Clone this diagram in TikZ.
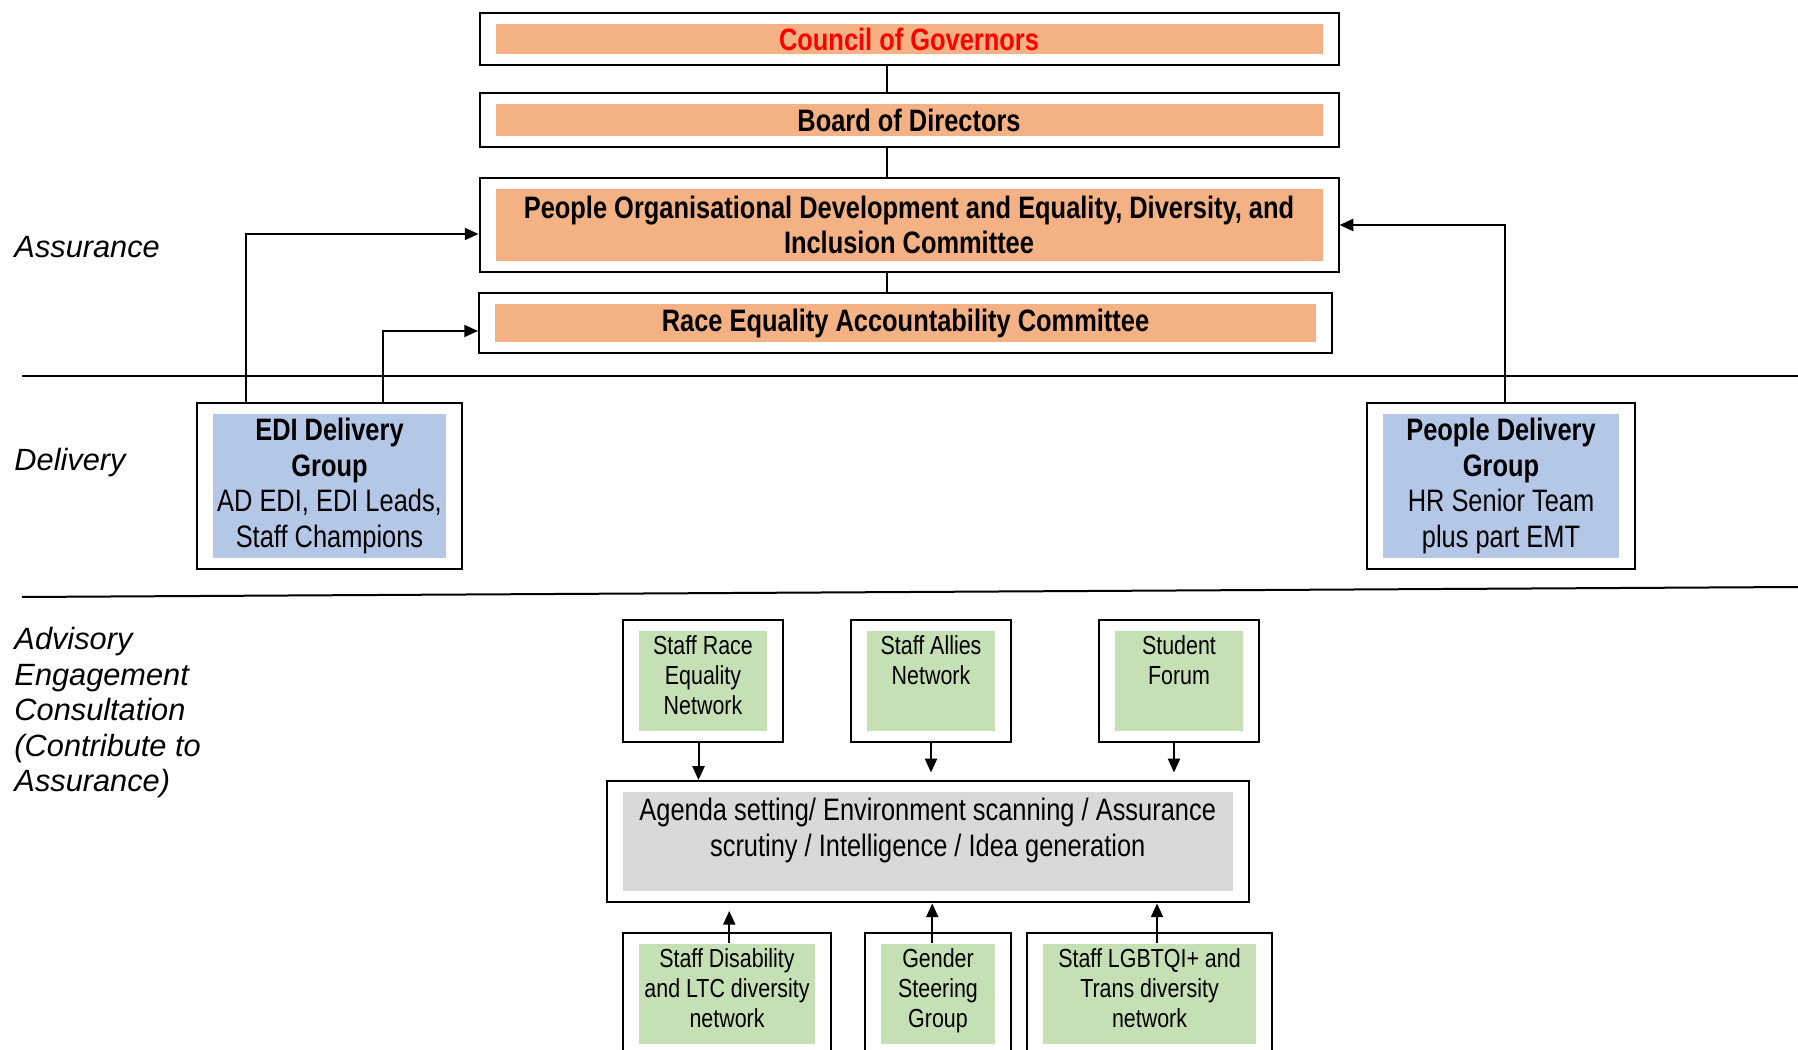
\documentclass[tikz,border=0pt]{standalone}
\usepackage{fontspec}
\setmainfont{Liberation Sans}
\newfontfamily\narrowfont{Liberation Sans}[FakeStretch=0.82]
\usetikzlibrary{calc,arrows.meta}

\definecolor{govorange}{HTML}{F4B183}
\definecolor{delblue}{HTML}{B4C7E7}
\definecolor{netgreen}{HTML}{C5E0B4}
\definecolor{agendagrey}{HTML}{D9D9D9}

% extra depth under the last line, lifts the text a little in the green boxes
\newcommand{\liftstrut}{\rule[-4.6pt]{0pt}{4.6pt}}

\tikzset{
  box/.style={draw, line width=0.8pt, fill=white, inner sep=0pt, align=center,
    font=\narrowfont\fontsize{12.4}{14.2}\selectfont,
    path picture={\fill[#1] ($(path picture bounding box.south west)+(16,-11)$)
      rectangle ($(path picture bounding box.north east)+(-16,11)$);}},
  smallbox/.style={box=#1, font=\narrowfont\fontsize{10.45}{11.9}\selectfont},
  band/.style={font=\itshape\fontsize{12.3}{14.2}\selectfont, anchor=west, align=left, inner sep=0pt},
  link/.style={line width=0.8pt},
  feed/.style={line width=0.8pt, -{Triangle[length=5.5pt,width=4.8pt]}},
}

\begin{document}
\begin{tikzpicture}[x=0.4pt,y=-0.4pt]
  \useasboundingbox (0,0) rectangle (1798,1050);
  \clip (0,0) rectangle (1798,1050);

  % tiers
  \node[band] (assur) at (14,247) {Assurance};
  \node[band] (deliv) at (14,463) {Delivery};
  \node[band] (advis) at (14,713) {Advisory\\Engagement\\Consultation\\(Contribute to\\Assurance)};
  \draw[link] (22,376) -- (1798,376);
  \draw[link] (22,597) -- (1798,587);

  % assurance committees
  \node[box=govorange, minimum width=343.6pt, minimum height=21pt] (council) at (909,39)
    {\bfseries\textcolor{red}{Council of Governors}};
  \node[box=govorange, minimum width=343.6pt, minimum height=21.6pt] (board) at (909,120)
    {\bfseries Board of Directors};
  \node[box=govorange, minimum width=343.6pt, minimum height=37.6pt] (pod) at (909,225)
    {\bfseries People Organisational Development and Equality, Diversity, and\\\bfseries Inclusion Committee};
  \node[box=govorange, minimum width=341.2pt, minimum height=24pt] (race) at (905.5,323)
    {\bfseries Race Equality Accountability Committee};

  \coordinate (spine) at (887,0);
  \draw[link] (council.south -| spine) -- (board.north -| spine);
  \draw[link] (board.south -| spine) -- (pod.north -| spine);
  \draw[link] (pod.south -| spine) -- (race.north -| spine);

  % delivery groups
  \node[box=delblue, minimum width=106pt, minimum height=66pt] (edi) at (329.5,486)
    {\bfseries EDI Delivery\\\bfseries Group\\AD EDI, EDI Leads,\\Staff Champions};
  \node[box=delblue, minimum width=107.2pt, minimum height=66pt] (pdg) at (1501,486)
    {\bfseries People Delivery\\\bfseries Group\\HR Senior Team\\plus part EMT};

  \draw[feed] ([xshift=-33.6pt]edi.north) |- ([yshift=-3.6pt]pod.west);
  \draw[feed] ([xshift=21.2pt]edi.north) |- ([yshift=-3.2pt]race.west);
  \draw[feed] ([xshift=1.4pt]pdg.north) |- (pod.east);

  % advisory networks
  \node[smallbox=netgreen, minimum width=64.2pt, minimum height=48.6pt] (sren) at (703,681)
    {Staff Race\\Equality\\Network\liftstrut};
  \node[smallbox=netgreen, minimum width=64.2pt, minimum height=48.6pt] (allies) at (931,681)
    {Staff Allies\\Network\\~\liftstrut};
  \node[smallbox=netgreen, minimum width=64.2pt, minimum height=48.6pt] (student) at (1179,681)
    {Student\\Forum\\~\liftstrut};

  \node[box=agendagrey, minimum width=256.8pt, minimum height=48.6pt] (agenda) at (927.7,841.7)
    {Agenda setting/ Environment scanning / Assurance\\scrutiny / Intelligence / Idea generation\\[-2.8pt]~};

  \node[smallbox=netgreen, minimum width=83.5pt, minimum height=48.8pt] (disab) at (727,994)
    {Staff Disability\\and LTC diversity\\network\liftstrut};
  \node[smallbox=netgreen, minimum width=58.7pt, minimum height=48.8pt] (gender) at (938,994)
    {Gender\\Steering\\Group\liftstrut};
  \node[smallbox=netgreen, minimum width=97.7pt, minimum height=48.8pt] (lgbt) at (1149.5,994)
    {Staff LGBTQI+ and\\Trans diversity\\network\liftstrut};

  \draw[feed] ([xshift=-1.8pt]sren.south) -- ([xshift=-1.8pt]sren.south |- agenda.north);
  \draw[feed, shorten >=3pt] (allies.south) -- (allies.south |- agenda.north);
  \draw[feed, shorten >=3pt] ([xshift=-2pt]student.south) -- ([xshift=-2pt]student.south |- agenda.north);

  \draw[feed, shorten >=3pt] ([xshift=0.9pt,yshift=-4.4pt]disab.north) -- ([xshift=0.9pt]disab.north |- agenda.south);
  \draw[feed] ([xshift=-2.3pt,yshift=-4.4pt]gender.north) -- ([xshift=-2.3pt]gender.north |- agenda.south);
  \draw[feed] ([xshift=3pt,yshift=-4.4pt]lgbt.north) -- ([xshift=3pt]lgbt.north |- agenda.south);
\end{tikzpicture}
\end{document}
